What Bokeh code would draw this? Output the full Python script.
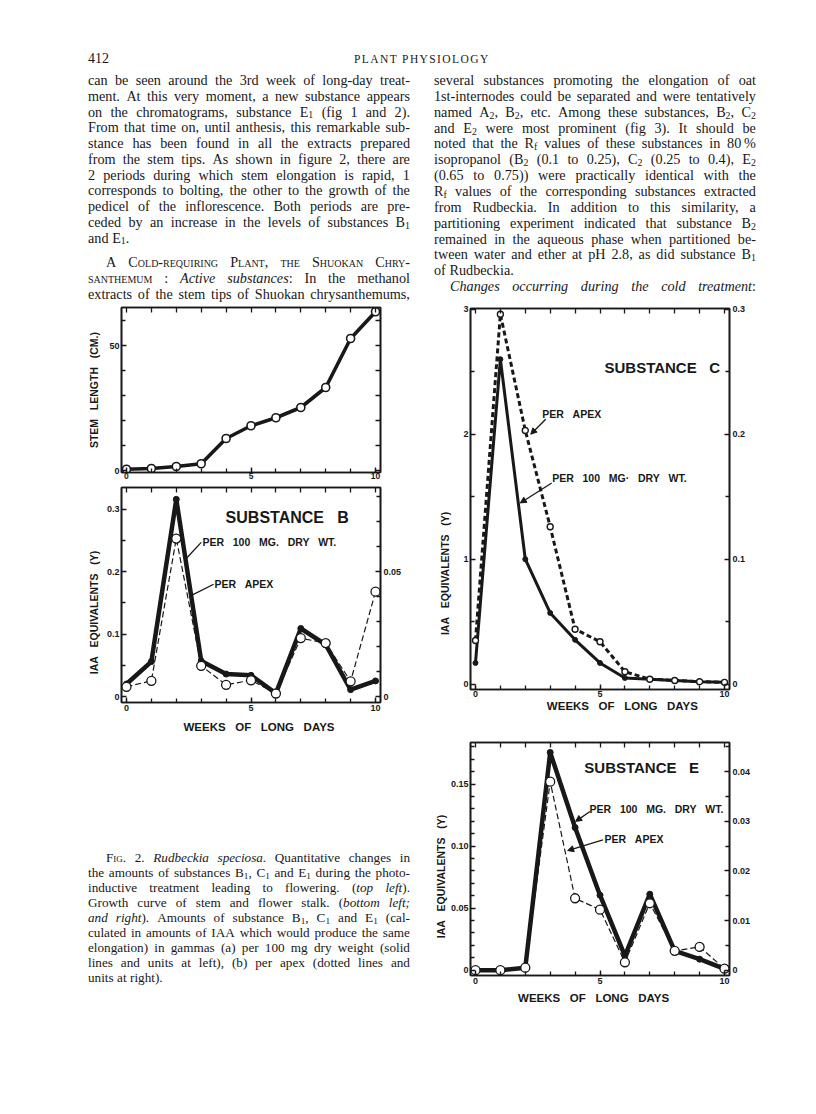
import re, math
from bokeh.plotting import figure
from bokeh.models import Range1d, LinearAxis, FixedTicker, Label, Arrow, NormalHead, Div
from bokeh.layouts import column, row
from bokeh.embed import file_html
from bokeh.resources import INLINE

# ---------------- data ----------------
weeks = [0, 1, 2, 3, 4, 5, 6, 7, 8, 9, 10]
stem_length = [0.5, 0.8, 1.6, 2.7, 12.8, 17.9, 21.1, 25.2, 33.2, 52.8, 63.5]
b_dry = [0.020, 0.056, 0.316, 0.057, 0.036, 0.034, 0.005, 0.109, 0.083, 0.011, 0.025]
b_apex = [0.0039, 0.0063, 0.0633, 0.0123, 0.0047, 0.0065, 0.0012, 0.0234, 0.0214, 0.0061, 0.042]
c_dry = [0.17, 2.60, 1.00, 0.57, 0.355, 0.17, 0.05, 0.04, 0.03, 0.02, 0.015]
c_apex = [0.035, 0.296, 0.203, 0.126, 0.044, 0.034, 0.010, 0.004, 0.003, 0.002, 0.0015]
e_dry = [0.0, 0.0, 0.002, 0.1756, 0.115, 0.0605, 0.0116, 0.0613, 0.0156, 0.0089, 0.001]
e_apex = [0.0, 0.0, 0.0005, 0.038, 0.0145, 0.0122, 0.0016, 0.0135, 0.0039, 0.0047, 0.0003]

x_ticks = [0, 5, 10]
stem_ticks = [0, 50]
b_left_ticks = [0, 0.1, 0.2, 0.3]
b_right_ticks = [0, 0.05]
c_left_ticks = [0, 1, 2, 3]
c_right_ticks = [0, 0.1, 0.2, 0.3]
e_left_ticks = [0, 0.05, 0.10, 0.15]
e_right_ticks = [0, 0.01, 0.02, 0.03, 0.04]

header_left = "412"
header_center = "PLANT PHYSIOLOGY"

left_lines = [
    "can be seen around the 3rd week of long-day treat-",
    "ment.  At this very moment, a new substance appears",
    "on the chromatograms, substance E_1 (fig 1 and 2).",
    "From that time on, until anthesis, this remarkable sub-",
    "stance has been found in all the extracts prepared",
    "from the stem tips.  As shown in figure 2, there are",
    "2 periods during which stem elongation is rapid, 1",
    "corresponds to bolting, the other to the growth of the",
    "pedicel of the inflorescence.  Both periods are pre-",
    "ceded by an increase in the levels of substances B_1",
    "and E_1.",
    "A ^Cold-requiring^ ^Plant,^ ^the^ ^Shuokan^ ^Chry-^",
    "^santhemum^ : *Active* *substances*:  In the methanol",
    "extracts of the stem tips of Shuokan chrysanthemums,",
]
right_lines = [
    "several substances promoting the elongation of oat",
    "1st-internodes could be separated and were tentatively",
    "named A_2, B_2, etc.  Among these substances, B_2, C_2",
    "and E_2 were most prominent (fig 3).  It should be",
    "noted that the R_f values of these substances in 80\u2009%",
    "isopropanol (B_2 (0.1 to 0.25), C_2 (0.25 to 0.4), E_2",
    "(0.65 to 0.75)) were practically identical with the",
    "R_f values of the corresponding substances extracted",
    "from Rudbeckia.  In addition to this similarity, a",
    "partitioning experiment indicated that substance B_2",
    "remained in the aqueous phase when partitioned be-",
    "tween water and ether at pH 2.8, as did substance B_1",
    "of Rudbeckia.",
    "*Changes* *occurring* *during* *the* *cold* *treatment*:",
]
caption_lines = [
    "^Fig.^ 2.  *Rudbeckia* *speciosa.*  Quantitative changes in",
    "the amounts of substances B_1, C_1 and E_1 during the photo-",
    "inductive treatment leading to flowering.  (*top* *left*).",
    "Growth curve of stem and flower stalk.  (*bottom* *left;*",
    "*and* *right*).  Amounts of substance B_1, C_1 and E_1 (cal-",
    "culated in amounts of IAA which would produce the same",
    "elongation) in gammas (a) per 100 mg dry weight (solid",
    "lines and units at left), (b) per apex (dotted lines and",
    "units at right).",
]

INK = "#181818"
SANS = "Liberation Sans"
SERIF = "Liberation Serif"
NB = "\u00a0"


# ---------------- text helpers ----------------
def conv(w):
    w = re.sub(r"\*(.+?)\*", r"<i>\1</i>", w)
    w = re.sub(r"\^(.+?)\^", r'<span style="font-variant:small-caps">\1</span>', w)
    w = re.sub(r"_(\w)", r'<span style="font-size:70%;position:relative;top:0.2em">\1</span>', w)
    return w


def line_html(text, left, top, width, justify=True, indent=0, size=14.2, lh=16):
    words = [w for w in text.split(" ") if w]
    items = "".join("<span>%s</span>" % conv(w) for w in words)
    jc = "space-between" if justify else "flex-start"
    gap = "" if justify else "column-gap:0.26em;"
    return ('<div style="position:absolute;left:%.1fpx;top:%.1fpx;width:%.1fpx;height:%dpx;'
            'line-height:%dpx;display:flex;align-items:baseline;justify-content:%s;%s'
            'white-space:nowrap;font-size:%.1fpx">%s</div>') % (
        left + indent, top, width - indent, lh, lh, jc, gap, size, items)


def wrap(inner, w, h):
    return ('<div style="position:relative;width:%dpx;height:%dpx;font-family:\'%s\',serif;'
            'color:%s;overflow:visible">%s</div>') % (w, h, SERIF, INK, inner)


# header
HDR_TOP = 8
hdr = ('<div style="position:absolute;left:88px;top:%dpx;font-size:14px;line-height:16px">%s</div>'
       % (67 - HDR_TOP - 8, header_left))
hdr += ('<div style="position:absolute;left:354px;top:%dpx;font-size:11.5px;line-height:16px;'
        'letter-spacing:1.4px">%s</div>' % (67 - HDR_TOP - 8, header_center))
header_div = Div(text=wrap(hdr, 800, 64), width=800, height=64, margin=(0, 0, 0, 0))

COLW = 322
# left column text
LT = 72
parts = []
centers = [88 + 15.75 * i for i in range(11)] + [270, 286, 302]
for i, (t, c) in enumerate(zip(left_lines, centers)):
    just = t != "and E_1."
    ind = 18 if i == 11 else 0
    parts.append(line_html(t, 88, c - LT - 8, COLW, justify=just, indent=ind))
left_div = Div(text=wrap("".join(parts), 410, 240), width=410, height=240, margin=(0, 0, 0, 0))

# right column text
parts = []
for i, t in enumerate(right_lines):
    c = 88 + 15.85 * i
    just = t != "of Rudbeckia."
    ind = 16 if i == 13 else 0
    parts.append(line_html(t, 24, c - LT - 8, COLW, justify=just, indent=ind))
right_div = Div(text=wrap("".join(parts), 390, 236), width=390, height=236, margin=(0, 0, 0, 0))

# caption
CT = 750
parts = []
for i, t in enumerate(caption_lines):
    c = 866 + 15.05 * i
    just = i != len(caption_lines) - 1
    ind = 18 if i == 0 else 0
    parts.append(line_html(t, 88, c - CT - 8, COLW, justify=just, indent=ind, size=13.2))
caption_div = Div(text=wrap("".join(parts), 410, 260), width=410, height=260, margin=(0, 0, 0, 0))


# ---------------- chart helpers ----------------
def base_fig(w, h, yr, mbl, mbr, mbt, mbb, right=None):
    kw = {}
    if right is not None:
        kw["extra_y_ranges"] = {"right": Range1d(*right)}
    p = figure(width=w, height=h, x_range=Range1d(-0.2, 10.2), y_range=Range1d(*yr),
               output_backend="svg", toolbar_location=None,
               min_border_left=mbl, min_border_right=mbr, min_border_top=mbt,
               min_border_bottom=mbb, margin=(0, 0, 0, 0), **kw)
    p.grid.visible = False
    p.outline_line_color = INK
    p.outline_line_width = 1.6
    p.background_fill_color = "white"
    p.border_fill_color = "white"
    return p


def style_axis(ax, ticks, minor, labels=None, standoff=2):
    ax.ticker = FixedTicker(ticks=ticks, minor_ticks=minor)
    ax.axis_line_color = INK
    ax.axis_line_width = 1.6
    ax.major_tick_in = 5
    ax.major_tick_out = 0
    ax.minor_tick_in = 4
    ax.minor_tick_out = 0
    ax.major_tick_line_color = INK
    ax.minor_tick_line_color = INK
    ax.major_tick_line_width = 1.3
    ax.minor_tick_line_width = 1.3
    if labels is None:
        ax.major_label_overrides = {t: "" for t in ticks}
        ax.major_label_text_font_size = "1px"
        ax.major_label_standoff = 0
    else:
        ax.major_label_overrides = dict(zip(ticks, labels))
        ax.major_label_text_font = SANS
        ax.major_label_text_font_style = "bold"
        ax.major_label_text_font_size = "9px"
        ax.major_label_text_color = INK
        ax.major_label_standoff = standoff


def axis_title(ax, text, size, standoff):
    ax.axis_label = text
    ax.axis_label_text_font = SANS
    ax.axis_label_text_font_style = "bold"
    ax.axis_label_text_font_size = size
    ax.axis_label_text_color = INK
    ax.axis_label_standoff = standoff


def add_frame_axes(p, right_ticks, right_minor, right_labels=None, right_name=None):
    top = LinearAxis()
    style_axis(top, list(range(11)), [])
    p.add_layout(top, "above")
    if right_name:
        r = LinearAxis(y_range_name=right_name)
    else:
        r = LinearAxis()
    style_axis(r, right_ticks, right_minor, right_labels, standoff=3)
    p.add_layout(r, "right")


def lab(p, x, y, text, size="10.5px", angle=0.0, align="left"):
    p.add_layout(Label(x=x, y=y, text=text, angle=angle, text_align=align,
                       text_baseline="middle", text_font=SANS, text_font_style="bold",
                       text_font_size=size, text_color=INK))


def leader(p, x0, y0, x1, y1, head=True):
    end = NormalHead(size=6, fill_color=INK, line_color=INK, line_width=1) if head else None
    p.add_layout(Arrow(end=end, x_start=x0, y_start=y0, x_end=x1, y_end=y1,
                       line_color=INK, line_width=1.3))


SP = NB * 3
XLAB = SP.join(["WEEKS", "OF", "LONG", "DAYS"])
YLAB = SP.join(["IAA", "EQUIVALENTS", "(Y)"])
DRY = SP.join(["PER", "100", "MG.", "DRY", "WT."])
APEX = SP.join(["PER", "APEX"])

# ---------------- stem length ----------------
p1 = base_fig(410, 180, (-0.8, 65.2), 121, 30, 3, 12)
style_axis(p1.xaxis[0], x_ticks, list(range(11)), ["0", "5", "10"], standoff=0)
p1.xaxis[0].major_label_text_font_size = "8.5px"
style_axis(p1.yaxis[0], stem_ticks, [10, 20, 30, 40, 60], ["0", "50"])
axis_title(p1.yaxis[0], SP.join(["STEM", "LENGTH", "(CM.)"]), "10.5px", 6)
add_frame_axes(p1, [0, 10, 20, 30, 40, 50, 60], [])
p1.line(weeks, stem_length, line_width=3.6, line_color=INK)
p1.scatter(weeks, stem_length, size=8, marker="circle", fill_color="white",
           line_color=INK, line_width=1.6)

# ---------------- substance B ----------------
p2 = base_fig(410, 258, (-0.0096, 0.335), 121, 30, 3, 40, right=(-0.0024, 0.08375))
style_axis(p2.xaxis[0], x_ticks, list(range(11)), ["0", "5", "10"])
axis_title(p2.xaxis[0], NB * 5 + XLAB, "11.5px", 7)
style_axis(p2.yaxis[0], b_left_ticks, [0.05, 0.15, 0.25], ["0", "0.1", "0.2", "0.3"])
axis_title(p2.yaxis[0], YLAB + NB * 12, "10.5px", 4)
add_frame_axes(p2, b_right_ticks, [0.01, 0.02, 0.03, 0.04, 0.06, 0.07, 0.08],
               ["0", "0.05"], "right")
p2.line(weeks, b_apex, y_range_name="right", line_width=1.2, line_color=INK, line_dash="6 3")
p2.line(weeks, b_dry, line_width=4.5, line_color=INK)
p2.scatter(weeks, b_dry, size=6, marker="circle", fill_color=INK, line_color=INK)
p2.scatter(weeks, b_apex, y_range_name="right", size=9, marker="circle",
           fill_color="white", line_color=INK, line_width=1.3)
lab(p2, 3.98, 0.287, "SUBSTANCE" + SP + "B", size="16px")
lab(p2, 3.05, 0.247, DRY)
lab(p2, 3.53, 0.180, APEX)
leader(p2, 3.0, 0.247, 2.42, 0.222, head=False)
leader(p2, 3.5, 0.180, 2.65, 0.163, head=False)

# ---------------- substance C ----------------
p3 = base_fig(390, 417, (-0.0424, 3.0056), 60, 71, 8, 28, right=(-0.00424, 0.30056))
style_axis(p3.xaxis[0], x_ticks, list(range(11)), ["0", "5", "10"], standoff=1)
axis_title(p3.xaxis[0], NB * 14 + XLAB, "11.5px", 0)
style_axis(p3.yaxis[0], c_left_ticks, [0.5, 1.5, 2.5], ["0", "1", "2", "3"])
axis_title(p3.yaxis[0], YLAB + NB * 51, "10.5px", 9)
add_frame_axes(p3, c_right_ticks, [0.05, 0.15, 0.25], ["0", "0.1", "0.2", "0.3"], "right")
p3.line(weeks, c_apex, y_range_name="right", line_width=3, line_color=INK, line_dash="5 3")
p3.line(weeks, c_dry, line_width=3, line_color=INK)
p3.scatter(weeks, c_dry, size=5, marker="circle", fill_color=INK, line_color=INK)
p3.scatter(weeks, c_apex, y_range_name="right", size=6, marker="circle",
           fill_color="white", line_color=INK, line_width=1.4)
lab(p3, 5.18, 2.53, "SUBSTANCE" + SP + "C", size="15px")
lab(p3, 2.68, 2.16, APEX)
lab(p3, 3.08, 1.65, SP.join(["PER", "100", "MG\u00b7", "DRY", "WT."]))
leader(p3, 2.82, 2.12, 2.22, 2.0)
leader(p3, 3.06, 1.61, 1.8, 1.45)

# ---------------- substance E ----------------
e_minor = [0.01, 0.02, 0.03, 0.04, 0.06, 0.07, 0.08, 0.09, 0.11, 0.12, 0.13, 0.14, 0.16, 0.17, 0.18]
p4 = base_fig(390, 295, (-0.00427, 0.1836), 60, 71, 25, 37, right=(-0.0010675, 0.0459))
style_axis(p4.xaxis[0], x_ticks, list(range(11)), ["0", "5", "10"])
axis_title(p4.xaxis[0], XLAB + NB * 4, "11.5px", 5)
style_axis(p4.yaxis[0], e_left_ticks, e_minor, ["0", "0.05", "0.10", "0.15"])
axis_title(p4.yaxis[0], YLAB + NB * 12, "10.5px", 1)
add_frame_axes(p4, e_right_ticks, [0.005, 0.015, 0.025, 0.035, 0.045],
               ["0", "0.01", "0.02", "0.03", "0.04"], "right")
p4.line(weeks, e_apex, y_range_name="right", line_width=1.2, line_color=INK, line_dash="6 3")
p4.line(weeks, e_dry, line_width=4.5, line_color=INK)
p4.scatter(weeks, e_dry, size=6, marker="circle", fill_color=INK, line_color=INK)
p4.scatter(weeks, e_apex, y_range_name="right", size=9, marker="circle",
           fill_color="white", line_color=INK, line_width=1.3)
lab(p4, 4.37, 0.1635, "SUBSTANCE" + SP + "E", size="15px")
lab(p4, 4.58, 0.1296, DRY)
lab(p4, 5.18, 0.1054, APEX)
leader(p4, 4.6, 0.128, 4.02, 0.12)
leader(p4, 5.12, 0.105, 3.7, 0.0965)

# ---------------- layout ----------------
left_col = column(left_div, p1, p2, caption_div, spacing=0)
right_col = column(right_div, p3, p4, spacing=0)
page = column(header_div, row(left_col, right_col, spacing=0), spacing=0)

open("out.html", "w").write(file_html(page, INLINE))
